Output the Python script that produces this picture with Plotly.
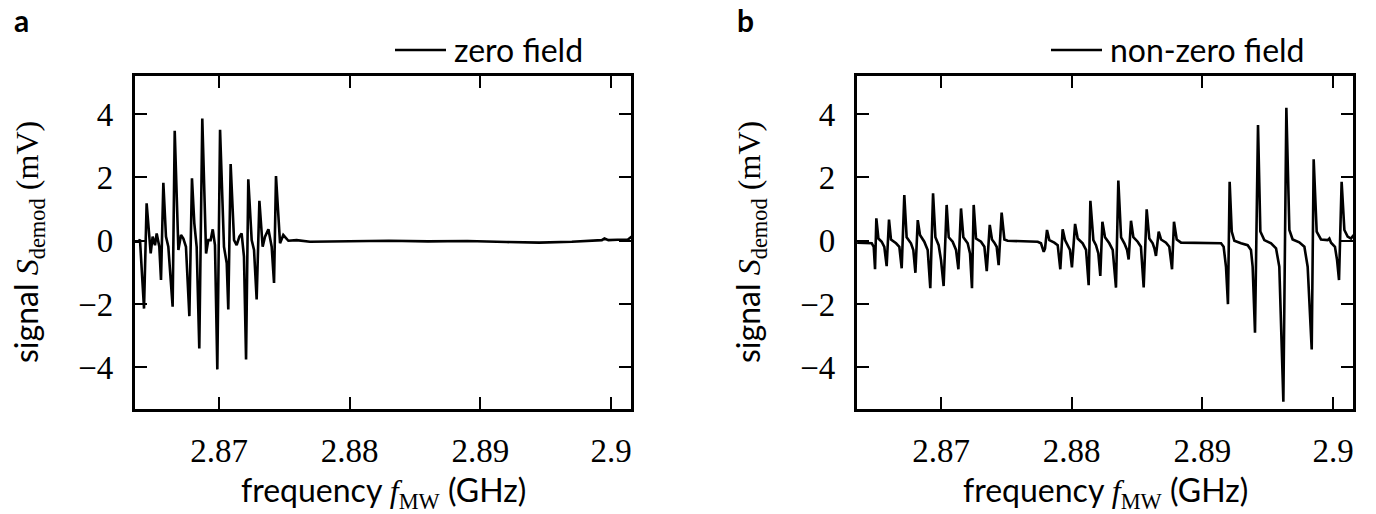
import plotly.graph_objects as go

# ---------------- data ----------------
freq_a = [2.86357, 2.86383, 2.86395, 2.86426, 2.86446, 2.86477, 2.86492, 2.86510, 2.86523, 2.86543,
          2.86556, 2.86574, 2.86594, 2.86612, 2.86645, 2.86661, 2.86689, 2.86709, 2.86727, 2.86747,
          2.86773, 2.86793, 2.86811, 2.86829, 2.86849, 2.86872, 2.86901, 2.86918, 2.86936, 2.86952,
          2.86969, 2.86987, 2.87008, 2.87038, 2.87059, 2.87071, 2.87089, 2.87115, 2.87135, 2.87156,
          2.87173, 2.87191, 2.87207, 2.87224, 2.87250, 2.87268, 2.87288, 2.87309, 2.87334, 2.87352,
          2.87378, 2.87403, 2.87421, 2.87436, 2.87467, 2.87492, 2.87531, 2.87594, 2.87696,
          2.8800, 2.8830, 2.8860, 2.8890, 2.8920, 2.8945, 2.8970, 2.8985, 2.8993, 2.8995,
          2.8998, 2.9005, 2.9013, 2.9016]
signal_a = [-0.03, -0.03, 0.04, -2.14, 1.18, -0.40, 0.13, -0.14, 0.23, -0.19,
            -1.24, 1.83, 0.13, -0.19, -2.08, 3.47, -0.29, 0.18, 0.07, -0.19,
            -2.38, 1.97, 0.55, -0.19, -3.40, 3.86, -0.40, 0.02, 0.02, 0.36,
            -0.14, -4.06, 3.50, -0.19, -0.71, -2.17, 2.42, 0.02, -0.14, 0.13,
            0.23, -0.50, -3.75, 1.94, 0.02, -0.29, -1.85, 1.26, -0.19, 0.13,
            0.36, -0.19, -1.33, 2.04, -0.08, 0.18, 0.00, 0.02, -0.03,
            -0.02, 0.00, -0.02, -0.01, -0.04, -0.06, -0.03, 0.01, 0.02, 0.07,
            0.02, 0.03, 0.04, 0.14]

freq_b = [2.86358, 2.86470, 2.86485, 2.86495, 2.86505, 2.86521, 2.86546, 2.86566, 2.86584, 2.86602,
          2.86617, 2.86656, 2.86681, 2.86699, 2.86719, 2.86737, 2.86770, 2.86788, 2.86804, 2.86822,
          2.86839, 2.86872, 2.86898, 2.86918, 2.86939, 2.86957, 2.86982, 2.87000, 2.87020, 2.87043,
          2.87059, 2.87089, 2.87115, 2.87133, 2.87153, 2.87171, 2.87204, 2.87222, 2.87237, 2.87250,
          2.87268, 2.87306, 2.87332, 2.87350, 2.87373, 2.87390, 2.87408, 2.87426, 2.87441, 2.87464,
          2.87485, 2.87510, 2.87740, 2.87765, 2.87786, 2.87796, 2.87811, 2.87829, 2.87867, 2.87893,
          2.87913, 2.87931, 2.87949, 2.87969, 2.87987, 2.88002, 2.88026, 2.88046, 2.88084, 2.88110,
          2.88130, 2.88143, 2.88166, 2.88186, 2.88204, 2.88219, 2.88235, 2.88255, 2.88288, 2.88314,
          2.88339, 2.88357, 2.88378, 2.88403, 2.88424, 2.88436, 2.88454, 2.88472, 2.88505, 2.88530,
          2.88551, 2.88574, 2.88594, 2.88620, 2.88633, 2.88645, 2.88666, 2.88684, 2.88722, 2.88747,
          2.88768, 2.88783, 2.88804, 2.88837, 2.88990, 2.89143, 2.89163, 2.89181, 2.89196, 2.89209,
          2.89225, 2.89245, 2.89296, 2.89347, 2.89372, 2.89385, 2.89403, 2.89426, 2.89444, 2.89474,
          2.89526, 2.89564, 2.89589, 2.89620, 2.89643, 2.89666, 2.89691, 2.89742, 2.89781, 2.89806,
          2.89837, 2.89852, 2.89875, 2.89908, 2.89959, 2.89972, 2.89985, 2.90015, 2.90031, 2.90046,
          2.90066, 2.90087, 2.90112, 2.90138, 2.90158]
signal_b = [-0.06, -0.08, -0.19, -0.90, 0.71, 0.07, -0.03, -0.19, -0.80, 0.67,
            0.04, -0.08, -0.19, -0.87, 1.44, 0.11, -0.08, -0.29, -1.01, 0.65,
            0.18, -0.03, -0.29, -1.50, 1.50, 0.11, -0.14, -0.61, -1.43, 1.13,
            0.11, -0.03, -0.29, -0.90, 1.02, 0.11, -0.08, -0.40, -1.50, 1.13,
            0.07, -0.03, -0.19, -0.96, 0.50, 0.04, -0.06, -0.19, -0.77, 0.89,
            0.04, 0.00, -0.03, -0.08, -0.35, -0.24, 0.34, 0.02, -0.06, -0.14,
            -0.90, 0.36, 0.02, -0.14, -0.29, -0.84, 0.53, 0.07, -0.08, -0.29,
            -1.40, 1.26, 0.02, -0.14, -0.40, -1.11, 0.60, 0.11, -0.08, -0.29,
            -1.48, 1.90, 0.11, -0.08, -0.29, -0.59, 0.63, 0.11, -0.03, -0.19,
            -1.47, 0.99, 0.07, -0.08, -0.24, -0.48, 0.29, 0.04, -0.06, -0.19,
            -0.90, 0.60, 0.04, -0.06, -0.08, -0.08, -0.19, -0.82, -2.00, 1.86,
            0.29, 0.00, -0.08, -0.14, -0.29, -0.82, -2.90, 3.65, 0.29, 0.02,
            -0.08, -0.24, -0.82, -5.08, 4.20, 0.34, 0.04, -0.05, -0.19, -0.82,
            -3.43, 2.57, 0.29, 0.04, 0.02, 0.07, -0.06, -0.19, -0.61, -1.24,
            1.86, 0.34, 0.13, 0.07, 0.18]

x_ticks = [2.87, 2.88, 2.89, 2.90]
x_tick_labels = ["2.87", "2.88", "2.89", "2.9"]
y_ticks = [-4, -2, 0, 2, 4]
y_tick_labels = ["\u22124", "\u22122", "0", "2", "4"]
x_range = [2.86357, 2.90153]
y_range = [-5.31, 5.20]
legend_a = "zero field"
legend_b = "non-zero field"
panel_labels = ["a", "b"]

# ---------------- layout helpers ----------------
W, H = 1376, 514
def px(x):
    return x / W
def py(y):
    return 1 - y / H

SERIF = "Liberation Serif"
SANS = "Lato"

fig = go.Figure()
fig.add_trace(go.Scatter(x=freq_a, y=signal_a, mode="lines", xaxis="x", yaxis="y",
                         line=dict(color="black", width=2.6), showlegend=False, name=legend_a))
fig.add_trace(go.Scatter(x=freq_b, y=signal_b, mode="lines", xaxis="x2", yaxis="y2",
                         line=dict(color="black", width=2.6), showlegend=False, name=legend_b))

def axis(**kw):
    d = dict(showgrid=False, zeroline=False, showline=True, linecolor="black", linewidth=3.3,
             mirror="allticks", ticks="inside", ticklen=12, tickwidth=2, tickcolor="black",
             tickfont=dict(family=SERIF, size=33, color="black"))
    d.update(kw)
    return d

fig.update_layout(
    width=W, height=H, margin=dict(l=0, r=0, t=0, b=0),
    paper_bgcolor="white", plot_bgcolor="white",
    font=dict(family=SERIF, size=33, color="black"),
    xaxis=axis(domain=[px(135), px(631)], range=x_range, anchor="y",
               tickvals=x_ticks, ticktext=x_tick_labels, ticklabelstandoff=10),
    yaxis=axis(domain=[py(409), py(76)], range=y_range, anchor="x",
               tickvals=y_ticks, ticktext=y_tick_labels, ticklabelstandoff=12),
    xaxis2=axis(domain=[px(857), px(1353)], range=x_range, anchor="y2",
                tickvals=x_ticks, ticktext=x_tick_labels, ticklabelstandoff=10),
    yaxis2=axis(domain=[py(409), py(76)], range=y_range, anchor="x2",
                tickvals=y_ticks, ticktext=y_tick_labels, ticklabelstandoff=12),
)

xtitle = ('frequency <span style="font-family:Liberation Serif"><i>f</i></span>'
          '<span style="font-family:Liberation Serif"><sub>MW</sub></span> (GHz)')
ytitle = ('signal <span style="font-family:Liberation Serif"><i>S</i></span>'
          '<span style="font-family:Liberation Serif"><sub>demod</sub></span> '
          '<span style="font-family:Liberation Serif">(mV)</span>')

ann = []
for cx in (383, 1105):
    ann.append(dict(text=xtitle, x=px(cx), y=py(492), xref="paper", yref="paper",
                    xanchor="center", yanchor="middle", showarrow=False,
                    font=dict(family=SANS, size=32, color="black")))
for cx in (28, 750):
    ann.append(dict(text=ytitle, x=px(cx), y=py(242), xref="paper", yref="paper",
                    xanchor="center", yanchor="middle", showarrow=False, textangle=-90,
                    font=dict(family=SANS, size=32, color="black")))
for (x0, x1, tx, label) in ((395, 446, 452, legend_a), (1051, 1102, 1108, legend_b)):
    fig.add_shape(type="line", xref="paper", yref="paper", x0=px(x0), x1=px(x1),
                  y0=py(50), y1=py(50), line=dict(color="black", width=2.6))
    ann.append(dict(text=label, x=px(tx), y=py(50), xref="paper", yref="paper",
                    xanchor="left", yanchor="middle", showarrow=False,
                    font=dict(family=SANS, size=32, color="black")))
for (lx, lab) in ((12, panel_labels[0]), (735, panel_labels[1])):
    ann.append(dict(text="<b>%s</b>" % lab, x=px(lx), y=py(20), xref="paper", yref="paper",
                    xanchor="left", yanchor="middle", showarrow=False,
                    font=dict(family=SANS, size=30, color="black")))
fig.update_layout(annotations=ann)

fig.write_html("out.html")
